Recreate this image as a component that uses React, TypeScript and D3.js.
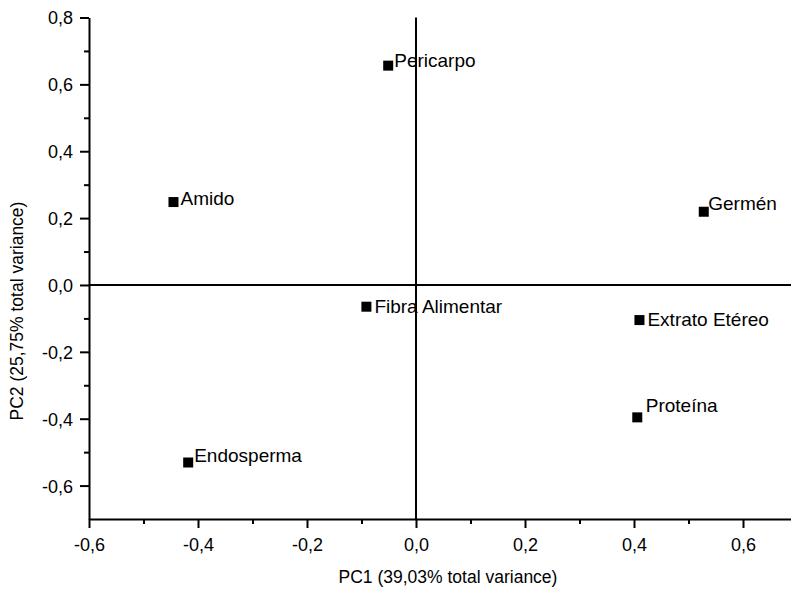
import React, { useEffect, useRef } from 'react';
import * as d3 from 'd3';

// PCA loadings plot (PC1 x PC2)
const names: string[] = ['Pericarpo', 'Amido', 'Germén', 'Fibra Alimentar', 'Extrato Etéreo', 'Proteína', 'Endosperma'];
const pc1: number[] = [-0.051, -0.445, 0.528, -0.091, 0.41, 0.406, -0.418];
const pc2: number[] = [0.656, 0.248, 0.219, -0.065, -0.105, -0.396, -0.531];

const xMajor: number[] = [-0.6, -0.4, -0.2, 0, 0.2, 0.4, 0.6];
const xMinor: number[] = [-0.5, -0.3, -0.1, 0.1, 0.3, 0.5, 0.7];
const yMajor: number[] = [-0.6, -0.4, -0.2, 0, 0.2, 0.4, 0.6, 0.8];
const yMinor: number[] = [-0.5, -0.3, -0.1, 0.1, 0.3, 0.5, 0.7];

const xTitle = 'PC1 (39,03% total variance)';
const yTitle = 'PC2 (25,75% total variance)';

// label nudges relative to marker centre (px)
const labelDx: number[] = [6, 7, 4.5, 8, 8, 8.5, 6];
const labelDy: number[] = [1, 3, -1.5, 6.3, 5.7, -5.6, 0];

const W = 791;
const H = 590;
const FONT = '"Liberation Sans", Arial, sans-serif';

export default function App() {
  const ref = useRef<SVGSVGElement | null>(null);

  useEffect(() => {
    const el = ref.current;
    if (!el) return;
    const svg = d3.select(el);
    svg.selectAll('*').remove();

    const x = d3.scaleLinear().domain([-0.6, 0.7]).range([89, 797.5]);
    const y = d3.scaleLinear().domain([-0.7, 0.8]).range([519, 17.5]);
    const fmt = (v: d3.NumberValue) => d3.format('.1f')(+v).replace('.', ',').replace('−', '-');

    // zero lines
    svg.append('line')
      .attr('x1', x(-0.6)).attr('x2', W)
      .attr('y1', y(0)).attr('y2', y(0))
      .attr('stroke', '#000').attr('stroke-width', 2);
    svg.append('line')
      .attr('x1', x(0)).attr('x2', x(0))
      .attr('y1', y(0.8)).attr('y2', y(-0.7))
      .attr('stroke', '#000').attr('stroke-width', 2);

    // axes
    const styleAxis = (g: d3.Selection<SVGGElement, unknown, null, undefined>) => {
      g.selectAll('path.domain').attr('stroke', '#000').attr('stroke-width', 2);
      g.selectAll('.tick line').attr('stroke', '#000').attr('stroke-width', 2);
      g.selectAll('.tick text').attr('fill', '#000').style('font', `18px ${FONT}`);
    };

    const gx = svg.append('g').attr('transform', `translate(0,${y(-0.7)})`)
      .call(d3.axisBottom(x).tickValues(xMajor).tickFormat(fmt).tickSize(9).tickSizeOuter(0).tickPadding(4));
    styleAxis(gx);
    gx.selectAll('.tick text').attr('dy', '1.05em');
    const gxm = svg.append('g').attr('transform', `translate(0,${y(-0.7)})`)
      .call(d3.axisBottom(x).tickValues(xMinor).tickFormat(() => '').tickSize(5).tickSizeOuter(0));
    styleAxis(gxm);
    gxm.select('path.domain').remove();

    const gy = svg.append('g').attr('transform', `translate(${x(-0.6)},0)`)
      .call(d3.axisLeft(y).tickValues(yMajor).tickFormat(fmt).tickSize(9).tickSizeOuter(0).tickPadding(7));
    styleAxis(gy);
    gy.selectAll('.tick text').attr('dy', '0.36em');
    const gym = svg.append('g').attr('transform', `translate(${x(-0.6)},0)`)
      .call(d3.axisLeft(y).tickValues(yMinor).tickFormat(() => '').tickSize(5).tickSizeOuter(0));
    styleAxis(gym);
    gym.select('path.domain').remove();

    // axis titles
    svg.append('text')
      .attr('x', 448).attr('y', 583)
      .attr('text-anchor', 'middle')
      .style('font', `17.5px ${FONT}`)
      .text(xTitle);
    svg.append('text')
      .attr('transform', 'translate(23,311) rotate(-90)')
      .attr('text-anchor', 'middle')
      .style('font', `17.5px ${FONT}`)
      .text(yTitle);

    // points + labels
    const pts = names.map((n, i) => ({ name: n, x: pc1[i], y: pc2[i], dx: labelDx[i], dy: labelDy[i] }));
    const s = 10;
    const g = svg.append('g');
    g.selectAll('rect')
      .data(pts)
      .join('rect')
      .attr('x', (d) => x(d.x) - s / 2)
      .attr('y', (d) => y(d.y) - s / 2)
      .attr('width', s)
      .attr('height', s)
      .attr('fill', '#000');
    g.selectAll('text')
      .data(pts)
      .join('text')
      .attr('x', (d) => x(d.x) + d.dx)
      .attr('y', (d) => y(d.y) + d.dy)
      .style('font', `19px ${FONT}`)
      .attr('fill', '#000')
      .text((d) => d.name);
  }, []);

  return (
    <svg
      ref={ref}
      width={W}
      height={H}
      viewBox={`0 0 ${W} ${H}`}
      style={{ position: 'absolute', left: 0, top: 0, background: '#fff', overflow: 'hidden' }}
    />
  );
}
